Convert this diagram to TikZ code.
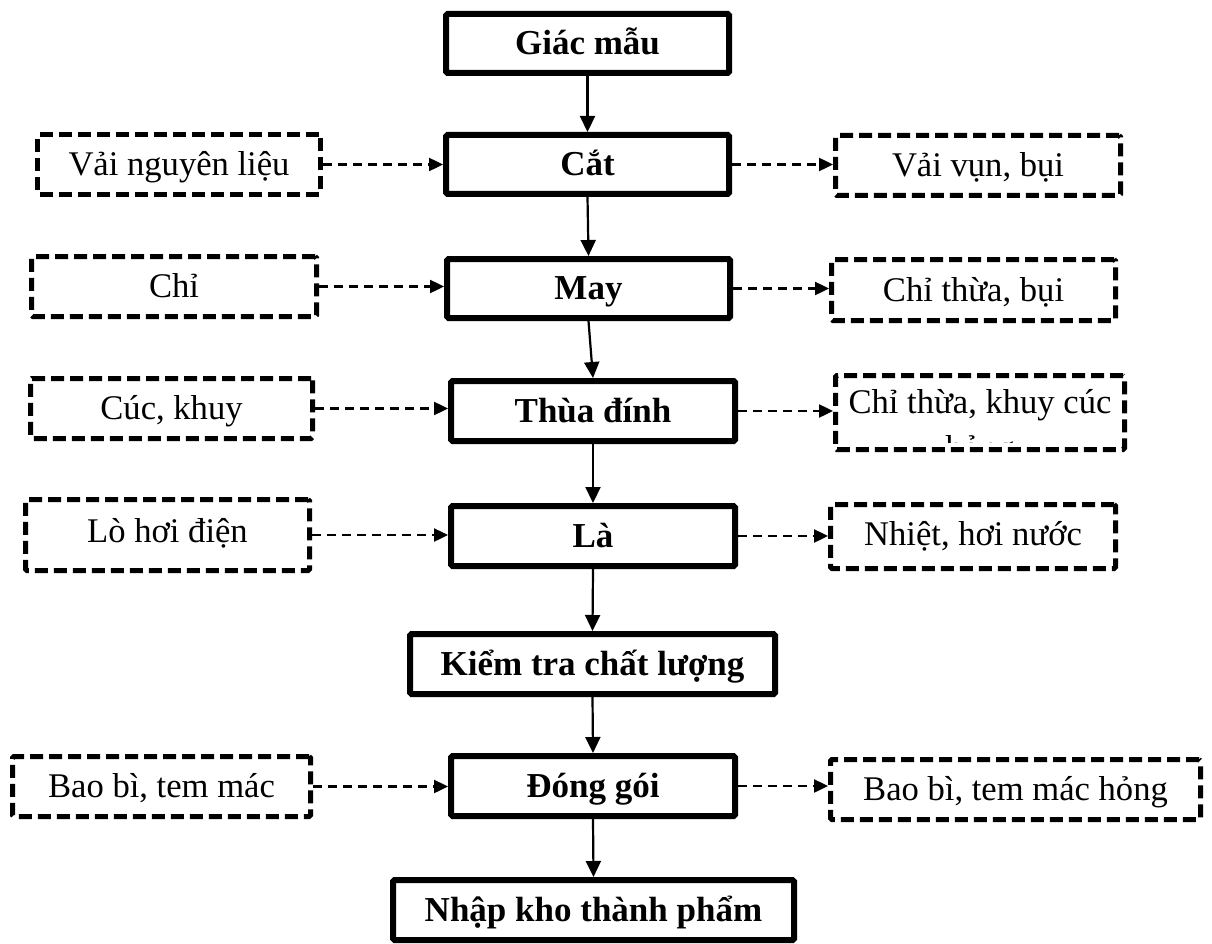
\documentclass[tikz,border=0pt]{standalone}
\usepackage{fontspec}
\setmainfont{Liberation Serif}
\usetikzlibrary{arrows.meta,calc}
\begin{document}
\begin{tikzpicture}[x=1pt,y=-1pt,
  txt/.style={font=\fontsize{34.6}{40}\selectfont},
  mainbox/.style={draw, line width=6pt, rounded corners=1.5pt, inner sep=0pt, font=\fontsize{35}{40}\selectfont\bfseries, text height=30pt, text depth=8pt},
  sidebox/.style={draw, line width=5pt, dash pattern=on 13pt off 6pt, rounded corners=1.5pt, inner sep=0pt, txt, text height=30pt, text depth=8pt},
  flow/.style={line width=2.2pt, -{Triangle[length=16pt,width=15pt]}},
  side/.style={line width=2.4pt, dash pattern=on 9pt off 6pt, -{Triangle[length=14pt,width=13pt]}}
]
\useasboundingbox[fill=white] (0,0) rectangle (1212,944);

% main column
\node[mainbox, minimum width=283pt, minimum height=59pt] (giac) at (587.5,43.5) {Giác mẫu};
\node[mainbox, minimum width=283pt, minimum height=59pt] (cat) at (587.5,164.5) {Cắt};
\node[mainbox, minimum width=283pt, minimum height=59pt] (may) at (588.5,288.5) {May};
\node[mainbox, minimum width=284pt, minimum height=60pt] (thua) at (593,411) {Thùa đính};
\node[mainbox, minimum width=284pt, minimum height=60pt] (la) at (593,536) {Là};
\node[mainbox, minimum width=365pt, minimum height=60pt] (kiem) at (592.5,664) {Kiểm tra chất lượng};
\node[mainbox, minimum width=284pt, minimum height=60pt] (dong) at (593,786) {Đóng gói};
\node[mainbox, minimum width=401pt, minimum height=60pt] (nhap) at (593.5,910) {Nhập kho thành phẩm};

% left inputs
\node[sidebox, minimum width=283pt, minimum height=60pt] (vai) at (179,164.5) {Vải nguyên liệu};
\node[sidebox, minimum width=285pt, minimum height=60pt] (chi) at (174,286.5) {Chỉ};
\node[sidebox, minimum width=282pt, minimum height=60pt] (cuc) at (171.5,408.5) {Cúc, khuy};
\node[sidebox, minimum width=284pt, minimum height=71pt, text height=22pt] (lo) at (167.5,535) {Lò hơi điện};
\node[sidebox, minimum width=298pt, minimum height=60pt] (bao) at (161.5,786.5) {Bao bì, tem mác};

% right outputs
\node[sidebox, minimum width=285pt, minimum height=60pt] (vun) at (978,165.5) {Vải vụn, bụi};
\node[sidebox, minimum width=284pt, minimum height=61pt] (chithua) at (973.5,290) {Chỉ thừa, bụi};
\node[sidebox, minimum width=289pt, minimum height=74pt] (chikhuy) at (980,412.5) {};
\node[txt, anchor=base, inner sep=0pt] (chikhuyT) at (980,413) {Chỉ thừa, khuy cúc};
\begin{scope}
  \clip (836,377) rectangle (1124,442);
  \node[txt, anchor=base, inner sep=0pt] (hong) at (980,459) {hỏng};
\end{scope}
\node[sidebox, minimum width=285pt, minimum height=64pt, text height=25pt] (nhiet) at (973,536.5) {Nhiệt, hơi nước};
\node[sidebox, minimum width=370pt, minimum height=60pt] (baohong) at (1015.5,789.5) {Bao bì, tem mác hỏng};

% flow arrows
\draw[flow] (giac) -- (cat);
\draw[flow] (cat.south) -- (may.north);
\draw[flow] (may.south) -- (thua.north);
\draw[flow] (thua.south) -- (la.north);
\draw[flow] (la.south) -- (kiem.north);
\draw[flow] (kiem.south) -- (dong.north);
\draw[flow] (dong.south) -- (nhap.north);

% inputs
\draw[side] (vai.east) -- (vai.east -| cat.west);
\draw[side] (chi.east) -- (chi.east -| may.west);
\draw[side] (cuc.east) -- (cuc.east -| thua.west);
\draw[side] (lo.east) -- (lo.east -| la.west);
\draw[side] (bao.east) -- (bao.east -| dong.west);

% outputs
\draw[side] (cat.east) -- (cat.east -| vun.west);
\draw[side] (may.east) -- (may.east -| chithua.west);
\draw[side] (thua.east) -- (thua.east -| chikhuy.west);
\draw[side] (la.east) -- (la.east -| nhiet.west);
\draw[side] (dong.east) -- (dong.east -| baohong.west);
\end{tikzpicture}
\end{document}
